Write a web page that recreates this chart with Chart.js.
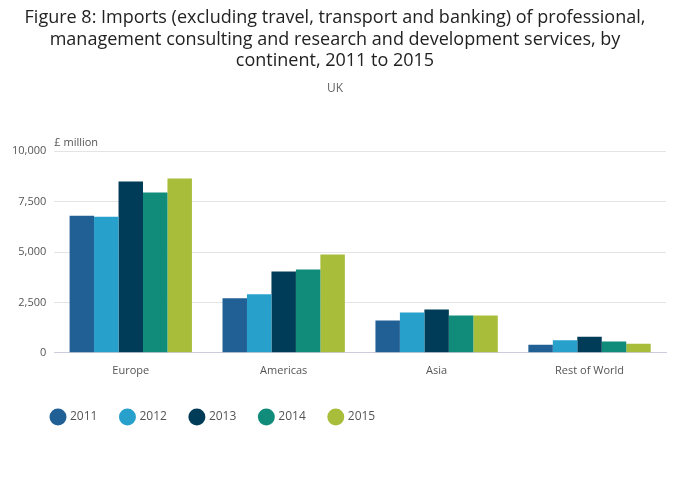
<!DOCTYPE html>
<html>
<head>
<meta charset="utf-8">
<script src="https://cdn.jsdelivr.net/npm/chart.js@4"></script>
<style>
  body { margin: 0; background: #fff; }
  #wrap { width: 700px; height: 502px; }
</style>
</head>
<body>
<div id="wrap"><canvas id="myChart"></canvas></div>
<script>
// valeurs (£ million)
const continents = ["Europe", "Americas", "Asia", "Rest of World"];
const years = ["2011", "2012", "2013", "2014", "2015"];
const v2011 = [6800, 2700, 1600, 400];
const v2012 = [6750, 2900, 2000, 620];
const v2013 = [8500, 4030, 2150, 800];
const v2014 = [7950, 4130, 1850, 560];
const v2015 = [8650, 4880, 1850, 450];
const yTicks = [0, 2500, 5000, 7500, 10000];

const colours = ["#206095", "#27a0cc", "#003c57", "#118c7b", "#a8bd3a"];
const series = [v2011, v2012, v2013, v2014, v2015];

// petit plugin pour le libelle "£ million" + decalage de la legende
const unitLabel = {
  id: "unitLabel",
  afterLayout(chart) {
    chart.legend.left += 24;
  },
  afterDraw(chart) {
    const ctx = chart.ctx;
    ctx.save();
    ctx.font = "11px 'Open Sans'";
    ctx.fillStyle = "#555";
    ctx.textBaseline = "middle";
    ctx.fillText("£ million", chart.chartArea.left, chart.chartArea.top - 8);
    ctx.restore();
  }
};

let ctx = document.getElementById("myChart").getContext("2d");
let myChart = new Chart(ctx, {
  type: "bar",
  data: {
    labels: continents,
    datasets: series.map((d, i) => ({
      label: years[i],
      data: d,
      backgroundColor: colours[i],
      categoryPercentage: 0.8,
      barPercentage: 1.0
    }))
  },
  options: {
    responsive: true,
    maintainAspectRatio: false,
    animation: false,
    layout: { padding: { left: 4, right: 34, top: 0, bottom: 69 } },
    plugins: {
      title: {
        display: true,
        text: ["Figure 8: Imports (excluding travel, transport and banking) of professional,",
               "management consulting and research and development services, by",
               "continent, 2011 to 2015"],
        font: { family: "'Open Sans'", size: 18, weight: "normal" },
        color: "#222",
        padding: { top: 7, bottom: 10 },
        lineHeight: 1.1
      },
      subtitle: {
        display: true,
        text: "UK",
        font: { family: "'Open Sans'", size: 12 },
        color: "#666",
        padding: { bottom: 55 }
      },
      legend: {
        position: "bottom",
        align: "start",
        labels: {
          usePointStyle: true,
          pointStyle: "circle",
          boxWidth: 12,
          boxHeight: 12,
          padding: 24,
          color: "#555",
          font: { family: "'Open Sans'", size: 12 }
        }
      },
      tooltip: { enabled: false }
    },
    scales: {
      x: {
        grid: { display: false },
        border: { color: "#ccd" },
        afterFit: axis => { axis.height += 7; },
        ticks: { color: "#555", font: { family: "'Open Sans'", size: 11 } }
      },
      y: {
        min: 0,
        max: 10000,
        afterBuildTicks: axis => { axis.ticks = yTicks.map(v => ({ value: v })); },
        grid: { color: "#e4e4e4", drawTicks: false },
        border: { display: false },
        ticks: {
          padding: 8,
          color: "#555",
          font: { family: "'Open Sans'", size: 11 },
          callback: v => v.toLocaleString("en-GB")
        }
      }
    }
  },
  plugins: [unitLabel]
});
</script>
</body>
</html>
